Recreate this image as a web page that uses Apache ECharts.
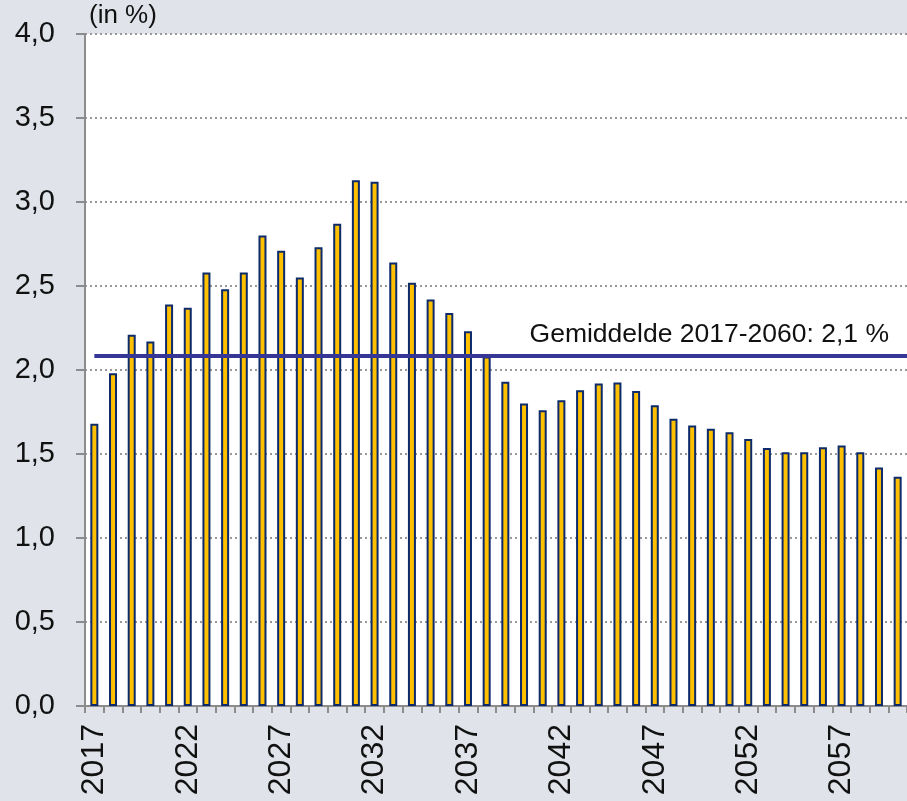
<!DOCTYPE html>
<html>
<head>
<meta charset="utf-8">
<script src="https://cdn.jsdelivr.net/npm/echarts@6/dist/echarts.min.js"></script>
<style>
  html, body { margin: 0; padding: 0; background: #e0e3e9; }
  #main { width: 907px; height: 801px; }
</style>
</head>
<body>
<div id="main"></div>
<script>
// jaren en groeipercentages
var years = [];
for (var y = 2017; y <= 2060; y++) years.push(String(y));

var values = [
  1.68, 1.98, 2.21, 2.17, 2.39, 2.37, 2.58, 2.48, 2.58, 2.80,
  2.71, 2.55, 2.73, 2.87, 3.13, 3.12, 2.64, 2.52, 2.42, 2.34,
  2.23, 2.08, 1.93, 1.80, 1.76, 1.82, 1.88, 1.92, 1.925, 1.875,
  1.79, 1.71, 1.67, 1.65, 1.63, 1.59, 1.535, 1.51, 1.51, 1.54,
  1.55, 1.51, 1.42, 1.365
];

var average = 2.083;
var averageLabel = 'Gemiddelde 2017-2060: 2,1 %';

var myChart = echarts.init(document.getElementById('main'));

var option = {
  backgroundColor: '#e0e3e9',
  textStyle: { fontFamily: 'Liberation Sans, Arial, sans-serif' },
  animation: false,
  graphic: [{
    type: 'text',
    left: 89,
    top: 3,
    style: { text: '(in %)', fontSize: 26, fill: '#111', fontFamily: 'Liberation Sans, Arial, sans-serif' }
  }],
  grid: {
    left: 85,
    top: 34,
    width: 830,
    bottom: 95,
    show: true,
    backgroundColor: '#fff',
    borderWidth: 0
  },
  xAxis: {
    type: 'category',
    data: years,
    boundaryGap: true,
    axisLine: { lineStyle: { color: '#8c8c8c', width: 2 } },
    axisTick: { show: true, interval: 0, length: 7, lineStyle: { color: '#8c8c8c', width: 2 } },
    axisLabel: {
      interval: 4,
      rotate: 90,
      margin: 18,
      fontSize: 32,
      color: '#111'
    }
  },
  yAxis: {
    type: 'value',
    min: 0,
    max: 4,
    interval: 0.5,
    axisLine: { show: true, lineStyle: { color: '#8c8c8c', width: 2 } },
    axisTick: { show: true, length: 9, lineStyle: { color: '#8c8c8c', width: 2 } },
    splitLine: { lineStyle: { color: '#999', type: [2, 3], width: 2 } },
    axisLabel: {
      margin: 30,
      fontSize: 29,
      color: '#111',
      formatter: function (v) { return v.toFixed(1).replace('.', ','); }
    }
  },
  series: [{
    type: 'bar',
    data: values,
    barWidth: 8,
    itemStyle: { color: '#ffc000', borderColor: '#0d2a6b', borderWidth: 2 },
    markLine: {
      symbol: 'none',
      silent: true,
      lineStyle: { color: '#363696', width: 4, type: 'solid' },
      label: {
        show: true,
        position: 'insideEndTop',
        formatter: averageLabel,
        fontSize: 26.5,
        color: '#111',
        distance: [18, 8]
      },
      data: [[
        { coord: [0, average] },
        { coord: [years.length - 1, average], x: 907 }
      ]]
    }
  }]
};

myChart.setOption(option);
</script>
</body>
</html>
